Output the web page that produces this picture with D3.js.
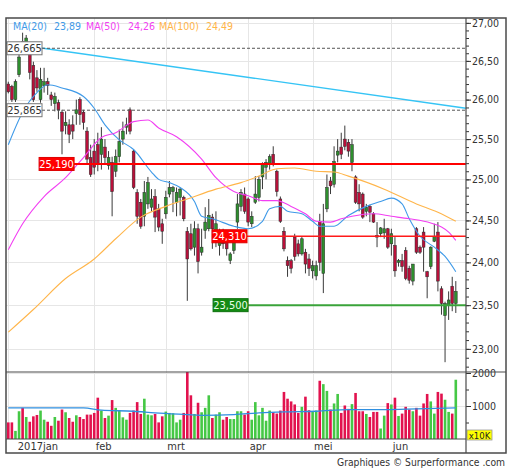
<!DOCTYPE html>
<html>
<head>
<meta charset="utf-8">
<script src="https://cdnjs.cloudflare.com/ajax/libs/d3/7.8.5/d3.min.js"></script>
<style>
body { margin: 0; background: #fff; }
text { font-family: 'DejaVu Sans Condensed', 'DejaVu Sans', sans-serif; }
</style>
</head>
<body>
<div id="chart"></div>
<script>
// daily candles, index 0 = first session shown
const opens = [
  26.20, 26.17, 26.00, 26.32, 26.75, 26.67, 26.62, 26.44, 26.28, 26.00,
  26.18, 26.23, 26.06, 25.95, 25.96, 25.84, 25.67, 25.68, 25.68, 25.82,
  26.00, 25.84, 25.60, 25.27, 25.35, 25.43, 25.31, 25.40, 25.17, 25.21,
  25.10, 25.28, 25.50, 25.65, 25.87, 25.35, 24.84, 24.72, 24.55, 24.70,
  24.66, 24.79, 24.64, 24.46, 24.58, 24.82, 24.85, 24.72, 24.78, 24.78,
  24.37, 24.34, 24.18, 24.40, 24.12, 24.38, 24.40, 24.54, 24.37, 24.20,
  24.34, 24.28, 24.02, 24.14, 24.48, 24.67, 24.82, 24.76, 24.46, 24.72,
  24.78, 25.03, 25.15, 25.19, 25.31, 25.10, 24.76, 24.37, 24.02, 24.02,
  24.30, 24.22, 24.10, 24.12, 24.04, 23.90, 23.84, 24.49, 23.87, 24.64,
  24.98, 24.94, 25.30, 25.40, 25.50, 25.46, 25.21, 25.03, 24.84, 24.82,
  24.61, 24.67, 24.58, 24.32, 24.34, 24.35, 24.40, 24.22, 24.20, 24.00,
  24.02, 24.14, 23.93, 23.78, 24.40, 24.18, 24.36, 23.89, 23.95, 24.25,
  24.36, 23.69, 23.38, 23.50, 23.72, 23.52
];
const highs = [
  26.23, 26.19, 26.26, 26.60, 26.87, 26.84, 26.71, 26.49, 26.38, 26.41,
  26.41, 26.28, 26.10, 26.09, 26.00, 25.87, 25.85, 25.75, 25.80, 26.00,
  26.03, 25.87, 25.65, 25.43, 25.50, 25.58, 25.65, 25.50, 25.35, 25.28,
  25.37, 25.62, 25.72, 25.77, 25.90, 25.37, 24.88, 24.76, 24.98, 25.03,
  24.88, 24.88, 24.70, 24.52, 24.86, 24.98, 24.92, 24.90, 24.90, 24.80,
  24.42, 24.46, 24.49, 24.46, 24.40, 24.66, 24.76, 24.58, 24.61, 24.40,
  24.40, 24.34, 24.12, 24.37, 24.82, 24.88, 24.90, 24.78, 24.61, 25.04,
  25.04, 25.21, 25.25, 25.31, 25.41, 25.12, 24.79, 24.42, 24.07, 24.04,
  24.34, 24.27, 24.30, 24.16, 24.10, 24.02, 24.02, 24.58, 24.70, 25.06,
  25.03, 25.41, 25.50, 25.58, 25.67, 25.50, 25.50, 25.05, 24.94, 24.84,
  24.70, 24.69, 24.60, 24.48, 24.42, 24.52, 24.41, 24.40, 24.30, 24.04,
  24.10, 24.18, 23.96, 23.98, 24.42, 24.20, 24.42, 23.90, 24.19, 24.46,
  24.48, 23.72, 23.54, 23.66, 23.83, 23.78
];
const lows = [
  26.08, 25.97, 25.97, 26.29, 26.58, 26.60, 26.26, 25.97, 26.10, 25.96,
  26.09, 26.06, 25.92, 25.85, 25.75, 25.31, 25.56, 25.45, 25.50, 25.68,
  25.68, 25.62, 25.19, 25.03, 25.06, 25.10, 25.12, 25.19, 25.12, 24.55,
  25.03, 25.21, 25.43, 25.56, 25.56, 24.88, 24.46, 24.40, 24.43, 24.64,
  24.61, 24.36, 24.37, 24.22, 24.52, 24.78, 24.60, 24.55, 24.56, 24.49,
  23.55, 24.14, 24.08, 23.87, 24.08, 24.28, 24.37, 24.16, 24.18, 24.08,
  24.16, 24.08, 23.98, 24.10, 24.40, 24.61, 24.58, 24.43, 24.42, 24.70,
  24.73, 24.88, 25.00, 25.12, 25.16, 24.79, 24.47, 24.13, 23.83, 23.87,
  24.02, 24.07, 24.08, 23.87, 23.84, 23.81, 23.79, 23.90, 23.64, 24.60,
  24.82, 24.90, 25.21, 25.25, 25.36, 25.28, 25.10, 24.70, 24.61, 24.52,
  24.55, 24.48, 24.47, 24.18, 24.30, 24.28, 24.16, 24.08, 23.83, 23.95,
  23.89, 23.79, 23.75, 23.73, 24.10, 24.10, 23.89, 23.58, 23.92, 24.24,
  23.66, 23.39, 22.85, 23.33, 23.43, 23.41
];
const closes = [
  26.10, 26.00, 26.23, 26.55, 26.64, 26.80, 26.35, 26.00, 26.15, 26.26,
  26.23, 26.18, 26.00, 26.04, 25.87, 25.60, 25.71, 25.56, 25.60, 25.87,
  25.81, 25.71, 25.25, 25.06, 25.15, 25.19, 25.50, 25.27, 25.27, 24.85,
  25.28, 25.47, 25.60, 25.68, 25.60, 24.90, 24.55, 24.43, 24.84, 24.96,
  24.76, 24.54, 24.42, 24.37, 24.78, 24.90, 24.90, 24.84, 24.88, 24.52,
  24.04, 24.16, 24.40, 24.01, 24.18, 24.48, 24.56, 24.40, 24.46, 24.30,
  24.22, 24.16, 24.10, 24.33, 24.70, 24.84, 24.61, 24.48, 24.55, 24.82,
  25.00, 25.19, 25.21, 25.28, 25.19, 24.85, 24.49, 24.16, 23.96, 23.93,
  24.07, 24.10, 24.28, 23.98, 23.93, 23.96, 23.96, 24.00, 24.46, 24.90,
  24.92, 25.22, 25.35, 25.31, 25.41, 25.35, 25.43, 24.72, 24.70, 24.54,
  24.66, 24.60, 24.48, 24.30, 24.41, 24.40, 24.18, 24.34, 23.90, 24.02,
  23.95, 23.81, 23.79, 23.98, 24.12, 24.12, 24.18, 23.83, 24.18, 24.31,
  23.78, 23.52, 23.52, 23.56, 23.52, 23.66
];
// volume in units of 10K shares
const volumes = [
  503, 503, 246, 841, 944, 667, 523, 687, 728, 862,
  585, 523, 400, 667, 554, 893, 810, 636, 523, 718,
  667, 605, 739, 739, 790, 1252, 862, 636, 708, 1180,
  944, 872, 657, 585, 790, 862, 1118, 759, 1221, 739,
  718, 759, 503, 687, 831, 790, 780, 503, 585, 790,
  2062, 1324, 759, 1098, 810, 944, 1324, 636, 739, 810,
  585, 667, 605, 605, 841, 841, 739, 841, 585, 1118,
  718, 944, 554, 862, 810, 770, 862, 1426, 1221, 1139,
  1047, 790, 975, 1283, 872, 841, 862, 1765, 1662, 1457,
  893, 1077, 1365, 790, 1016, 913, 1057, 1395, 841, 841,
  759, 667, 821, 821, 318, 708, 1088, 1047, 1252, 698,
  770, 975, 893, 841, 944, 708, 1077, 1365, 1139, 770,
  1426, 1375, 1190, 821, 770, 1796
];
const volMaIdx = [0, 21, 26, 35, 41, 50, 54, 63, 70, 77, 86, 95, 105, 114, 125];
const volMa = [944, 944, 872, 841, 790, 739, 718, 739, 790, 821, 841, 893, 893, 913, 944];

// moving averages
const ma20Idx = [0, 4, 8, 11, 15, 21, 24, 27, 31, 35, 40, 42, 45, 48, 52, 54, 57, 63, 67, 71, 73, 76, 78, 82, 85, 87, 91, 95, 100, 104, 107, 110, 112, 115, 119, 122, 125];
const ma20 = [25.43, 25.84, 26.09, 26.19, 26.15, 26.04, 25.89, 25.68, 25.49, 25.37, 25.09, 25.00, 24.96, 24.90, 24.73, 24.55, 24.52, 24.43, 24.40, 24.49, 24.64, 24.67, 24.61, 24.58, 24.49, 24.43, 24.43, 24.56, 24.67, 24.73, 24.77, 24.70, 24.52, 24.31, 24.18, 24.07, 23.89];
const ma50Idx = [0, 4, 10, 16, 21, 26, 30, 35, 39, 42, 47, 54, 58, 63, 67, 71, 75, 79, 83, 86, 90, 93, 96, 102, 107, 112, 118, 121, 123, 125];
const ma50 = [24.15, 24.46, 24.79, 25.02, 25.27, 25.52, 25.58, 25.72, 25.74, 25.64, 25.53, 25.25, 25.02, 24.85, 24.80, 24.74, 24.74, 24.67, 24.58, 24.49, 24.48, 24.52, 24.55, 24.58, 24.55, 24.52, 24.47, 24.42, 24.36, 24.26];
const ma100Idx = [0, 7, 16, 24, 30, 37, 44, 50, 58, 65, 70, 75, 80, 86, 91, 95, 105, 114, 120, 125];
const ma100 = [23.19, 23.45, 23.81, 24.04, 24.28, 24.54, 24.67, 24.76, 24.88, 24.96, 25.04, 25.13, 25.14, 25.10, 25.09, 25.04, 24.88, 24.70, 24.60, 24.49];

const legendNames = ['MA(20)', 'MA(50)', 'MA(100)'];
const legendValues = ['23,89', '24,26', '24,49'];
const maColors = ['#3f9ae8', '#f23ff2', '#ffb54a'];

// trend line (two anchors)
const trendIdx = [-0.64, 127.8];
const trendVal = [26.735, 25.89];

// horizontal levels
const levelPrices = [26.665, 25.865, 25.19, 24.31, 23.5];
const levelLabels = ['26,665', '25,865', '25,190', '24,310', '23,500'];
const levelKinds = ['dash', 'dash', 'red', 'redThin', 'green'];
const levelFrom = [-0.36, -0.36, 8.6, 56.9, 57.2];

// x axis
const monthStarts = [0, 24, 44, 67, 85, 107];
const monthLabels = ['2017jan', 'feb', 'mrt', 'apr', 'mei', 'jun'];
const priceTicks = d3.range(23, 27.01, 0.5);
const priceMinor = d3.range(22.8, 27.05, 0.1);
const volTicks = [1000, 2000];
const volMinor = [500, 1500];

const plot = { left: 6, right: 466, top: 18, bottom: 372 };
const volBox = { top: 372, bottom: 439 };
const frame = { left: 6, right: 506, top: 18, bottom: 453 };

const svg = d3.select('#chart').append('svg')
  .attr('width', 512).attr('height', 470);

const x = d3.scaleLinear().domain([0, 125]).range([8.3, 455.8]);
const y = d3.scaleLog().domain([22.74, 27.065]).range([plot.bottom, plot.top]);
const yv = d3.scaleLinear().domain([0, 2000]).range([volBox.bottom, 373]);

const defs = svg.append('defs');
defs.append('clipPath').attr('id', 'clipPlot').append('rect')
  .attr('x', plot.left).attr('y', plot.top)
  .attr('width', plot.right - plot.left).attr('height', plot.bottom - plot.top);
defs.append('clipPath').attr('id', 'clipAxis').append('rect')
  .attr('x', plot.right).attr('y', plot.top)
  .attr('width', frame.right - plot.right).attr('height', plot.bottom - plot.top);
defs.append('clipPath').attr('id', 'clipVol').append('rect')
  .attr('x', plot.left).attr('y', volBox.top)
  .attr('width', plot.right - plot.left).attr('height', volBox.bottom - volBox.top);

// grid
const grid = svg.append('g').attr('stroke', '#e6e6e6').attr('stroke-width', 1);
grid.selectAll('.hg').data(priceTicks).join('line')
  .attr('x1', plot.left).attr('x2', plot.right)
  .attr('y1', d => Math.round(y(d)) + 0.5).attr('y2', d => Math.round(y(d)) + 0.5);
grid.selectAll('.vgl').data(volTicks).join('line')
  .attr('x1', plot.left).attr('x2', plot.right)
  .attr('y1', d => Math.round(yv(d)) + 0.5).attr('y2', d => Math.round(yv(d)) + 0.5);
grid.selectAll('.vg').data(monthStarts).join('line')
  .attr('x1', d => Math.round(x(d)) + 0.5).attr('x2', d => Math.round(x(d)) + 0.5)
  .attr('y1', plot.top).attr('y2', volBox.bottom);

// volume panel
const volG = svg.append('g').attr('clip-path', 'url(#clipVol)');
volG.selectAll('rect').data(volumes).join('rect')
  .attr('x', (d, i) => x(i) - 1.3)
  .attr('width', 2.6)
  .attr('y', d => yv(d))
  .attr('height', d => volBox.bottom - yv(d))
  .attr('fill', (d, i) => closes[i] >= opens[i] ? '#45c845' : '#e2124e');
volG.append('path')
  .datum(volMa)
  .attr('fill', 'none').attr('stroke', '#2f8fe0').attr('stroke-width', 1.3)
  .attr('d', d3.line().x((d, k) => x(volMaIdx[k])).y(d => yv(d)).curve(d3.curveMonotoneX));

// price panel
const pg = svg.append('g').attr('clip-path', 'url(#clipPlot)');

const idx = d3.range(opens.length);
pg.append('g').selectAll('line').data(idx).join('line')
  .attr('x1', i => x(i)).attr('x2', i => x(i))
  .attr('y1', i => y(highs[i])).attr('y2', i => y(lows[i]))
  .attr('stroke', '#3a3a3a').attr('stroke-width', 1);
pg.append('g').selectAll('rect').data(idx).join('rect')
  .attr('x', i => x(i) - 1.4)
  .attr('width', 2.8)
  .attr('y', i => y(Math.max(opens[i], closes[i])))
  .attr('height', i => Math.max(1, y(Math.min(opens[i], closes[i])) - y(Math.max(opens[i], closes[i]))))
  .attr('fill', i => closes[i] >= opens[i] ? '#2e8f2e' : '#b8103a')
  .attr('stroke', '#2a2a2a').attr('stroke-width', 0.5);

// moving averages
[[ma20Idx, ma20], [ma50Idx, ma50], [ma100Idx, ma100]].forEach(([ix, vals], k) => {
  pg.append('path')
    .datum(vals)
    .attr('fill', 'none')
    .attr('stroke', maColors[k])
    .attr('stroke-width', 1.1)
    .attr('d', d3.line().x((d, j) => x(ix[j])).y(d => y(d)).curve(d3.curveMonotoneX));
});

// trend line
pg.append('path')
  .datum(trendVal)
  .attr('fill', 'none').attr('stroke', '#35c4f5').attr('stroke-width', 1.4)
  .attr('d', d3.line().x((d, j) => x(trendIdx[j])).y(d => y(d)));

// levels
const levelStyle = {
  dash: { stroke: '#555', width: 1, dash: '3,2', fill: '#fff', text: '#333', box: '#777' },
  red: { stroke: '#ff0000', width: 2, dash: null, fill: '#ff0000', text: '#fff', box: '#d00' },
  redThin: { stroke: '#ff1a1a', width: 1.4, dash: null, fill: '#ff0000', text: '#fff', box: '#d00' },
  green: { stroke: '#3aa33a', width: 2, dash: null, fill: '#138a13', text: '#e8ffe8', box: '#0d700d' }
};
const boxW = 35, boxH = 13;
levelPrices.forEach((p, k) => {
  const st = levelStyle[levelKinds[k]];
  const yy = y(p);
  const bx = x(levelFrom[k]);
  const ln = pg.append('line')
    .attr('x1', bx + boxW).attr('x2', plot.right)
    .attr('y1', yy).attr('y2', yy)
    .attr('stroke', st.stroke).attr('stroke-width', st.width);
  if (st.dash) ln.attr('stroke-dasharray', st.dash);
  svg.append('rect')
    .attr('x', bx).attr('y', yy - boxH / 2)
    .attr('width', boxW).attr('height', boxH)
    .attr('fill', st.fill).attr('stroke', st.box).attr('stroke-width', 1);
  svg.append('text')
    .attr('x', bx + boxW / 2).attr('y', yy + 4)
    .attr('text-anchor', 'middle')
    .attr('font-size', 11).attr('fill', st.text)
    .text(levelLabels[k]);
});

// legend
const legendX = [13, 54, 86, 128, 159, 206];
legendNames.forEach((n, k) => {
  svg.append('text').attr('x', legendX[k * 2]).attr('y', 29.5)
    .attr('font-size', 10.5).attr('fill', maColors[k]).text(n);
  svg.append('text').attr('x', legendX[k * 2 + 1]).attr('y', 29.5)
    .attr('font-size', 10.5).attr('fill', maColors[k]).text(legendValues[k]);
});

// right axis, price
const axG = svg.append('g').attr('clip-path', 'url(#clipAxis)');
axG.append('g')
  .attr('transform', `translate(${plot.right},0)`)
  .call(d3.axisRight(y).tickValues(priceMinor).tickSize(3).tickFormat(''))
  .call(g => g.select('.domain').remove())
  .call(g => g.selectAll('line').attr('stroke', '#333'));
axG.append('g')
  .attr('transform', `translate(${plot.right},0)`)
  .call(d3.axisRight(y).tickValues(priceTicks).tickSize(5).tickPadding(1)
    .tickFormat(d => d.toFixed(2).replace('.', ',')))
  .call(g => g.select('.domain').remove())
  .call(g => g.selectAll('line').attr('stroke', '#333'))
  .call(g => g.selectAll('text').attr('font-size', 10.5).attr('fill', '#333')
    .attr('font-family', "'DejaVu Sans Condensed','DejaVu Sans',sans-serif"));

// right axis, volume
svg.append('g')
  .attr('transform', `translate(${plot.right},0)`)
  .call(d3.axisRight(yv).tickValues(volMinor).tickSize(3).tickFormat(''))
  .call(g => g.select('.domain').remove())
  .call(g => g.selectAll('line').attr('stroke', '#333'));
svg.append('g')
  .attr('transform', `translate(${plot.right},0)`)
  .call(d3.axisRight(yv).tickValues(volTicks).tickSize(5).tickPadding(1).tickFormat(d3.format('d')))
  .call(g => g.select('.domain').remove())
  .call(g => g.selectAll('line').attr('stroke', '#333'))
  .call(g => g.selectAll('text').attr('font-size', 10.5).attr('fill', '#333')
    .attr('font-family', "'DejaVu Sans Condensed','DejaVu Sans',sans-serif"));

svg.append('rect')
  .attr('x', 467).attr('y', 430).attr('width', 25).attr('height', 10)
  .attr('fill', '#ffff00').attr('stroke', '#999').attr('stroke-width', 0.8);
svg.append('text')
  .attr('x', 479.5).attr('y', 438.5).attr('text-anchor', 'middle')
  .attr('font-size', 9.5).attr('fill', '#222').text('x10K');

// month labels
svg.append('g').selectAll('text').data(monthStarts).join('text')
  .attr('x', (d, k) => x(d) + (k === 0 ? 9.5 : 1.5))
  .attr('y', 450)
  .attr('font-size', 11)
  .attr('fill', '#333')
  .text((d, k) => monthLabels[k]);

// frame
const fr = svg.append('g').attr('fill', 'none').attr('stroke', '#4a4a4a');
fr.append('rect')
  .attr('x', frame.left).attr('y', frame.top)
  .attr('width', frame.right - frame.left).attr('height', frame.bottom - frame.top)
  .attr('stroke-width', 1.5);
fr.append('line').attr('x1', plot.right).attr('x2', plot.right)
  .attr('y1', frame.top).attr('y2', frame.bottom).attr('stroke-width', 1.2);
fr.append('line').attr('x1', frame.left).attr('x2', frame.right)
  .attr('y1', volBox.top).attr('y2', volBox.top).attr('stroke-width', 1.2);
fr.append('line').attr('x1', frame.left).attr('x2', plot.right)
  .attr('y1', volBox.bottom).attr('y2', volBox.bottom).attr('stroke-width', 1.2);

// credit
svg.append('text')
  .attr('x', 505).attr('y', 466)
  .attr('text-anchor', 'end')
  .attr('font-size', 10.5)
  .attr('fill', '#333')
  .attr('textLength', 168).attr('lengthAdjust', 'spacingAndGlyphs')
  .text('Graphiques © Surperformance .com');
</script>
</body>
</html>
